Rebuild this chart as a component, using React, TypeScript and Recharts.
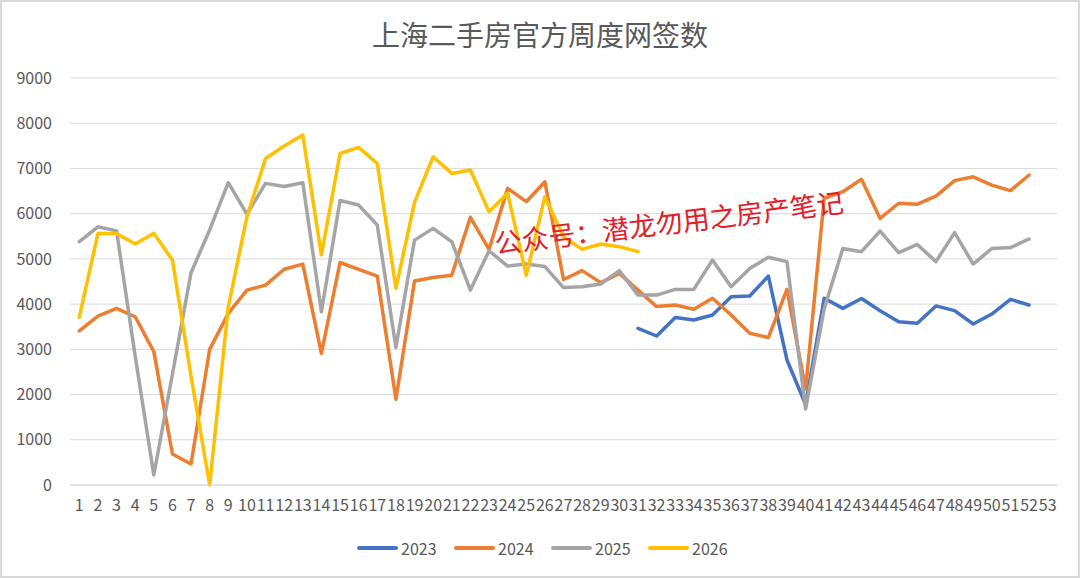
import React from "react";
import { LineChart, Line, XAxis, YAxis, CartesianGrid } from "recharts";

const weeks = ["1","2","3","4","5","6","7","8","9","10","11","12","13","14","15","16","17","18","19","20","21","22","23","24","25","26","27","28","29","30","31","32","33","34","35","36","37","38","39","40","41","42","43","44","45","46","47","48","49","50","51","52","53"];

const y2023: (number | null)[] = [null,null,null,null,null,null,null,null,null,null,null,null,null,null,null,null,null,null,null,null,null,null,null,null,null,null,null,null,null,null,
  3465,3295,3705,3650,3760,4165,4180,4620,2765,1780,4130,3905,4125,3855,3610,3575,3960,3855,3560,3780,4105,3980,null];

const y2024: (number | null)[] = [3410,3735,3905,3720,2950,685,465,3000,3795,4310,4420,4770,4885,2910,4920,4770,4620,1895,4510,4590,4640,5920,5210,6560,6265,6705,4545,4740,4475,4680,
  4310,3945,3980,3885,4130,3760,3355,3260,4325,2120,6340,6485,6760,5895,6230,6210,6390,6730,6815,6630,6510,6855,null];

const y2025: (number | null)[] = [5380,5710,5620,2850,220,2450,4695,5640,6685,5990,6670,6600,6685,3830,6290,6190,5750,3040,5415,5675,5380,4310,5180,4840,4885,4830,4365,4385,4445,4740,
  4200,4200,4325,4325,4975,4385,4790,5035,4940,1680,3900,5230,5160,5615,5140,5320,4940,5580,4885,5230,5250,5440,null];

const y2026: (number | null)[] = [3710,5560,5560,5330,5565,4975,2400,0,3940,5930,7220,7495,7740,5085,7330,7465,7110,4350,6250,7260,6890,6965,6045,6450,4640,6375,5490,5210,5330,5270,
  5160,null,null,null,null,null,null,null,null,null,null,null,null,null,null,null,null,null,null,null,null,null,null];

const yTicks = [0,1000,2000,3000,4000,5000,6000,7000,8000,9000];

const seriesNames = ["2023","2024","2025","2026"];
const seriesColors = ["#4472C4","#ED7D31","#A5A5A5","#FFC000"];
const seriesValues = [y2023, y2024, y2025, y2026];

const data = weeks.map((w, i) => {
  const row: Record<string, string | number | null> = { week: w };
  seriesNames.forEach((n, k) => { row[n] = seriesValues[k][i]; });
  return row;
});

const FONT = "'Noto Sans CJK SC', 'Noto Sans', sans-serif";

export default function App() {
  return (
    <div style={{ position: "absolute", left: 0, top: 0, width: 1080, height: 578, boxSizing: "border-box", border: "2px solid #d9d9d9", background: "#fff", overflow: "hidden" }}>
      <div style={{ position: "absolute", left: -2, top: -2 }}>
        <LineChart width={1080} height={578} data={data} margin={{ top: 78, right: 23, bottom: 53, left: 10 }}>
          <CartesianGrid vertical={false} stroke="#d9d9d9" strokeWidth={1} />
          <XAxis
            dataKey="week"
            interval={0}
            axisLine={{ stroke: "#d9d9d9" }}
            tickLine={false}
            tickSize={6}
            tickMargin={9}
            padding={{ left: 9.31, right: 9.31 }}
            tick={{ fill: "#595959", fontSize: 16, fontFamily: FONT }}
            height={40}
          />
          <YAxis
            domain={[0, 9000]}
            ticks={yTicks}
            interval={0}
            axisLine={false}
            tickLine={false}
            tickSize={6}
            tickMargin={12}
            width={60}
            tick={{ fill: "#595959", fontSize: 16, fontFamily: FONT }}
          />
          {seriesNames.map((n, k) => (
            <Line
              key={n}
              type="linear"
              dataKey={n}
              stroke={seriesColors[k]}
              strokeWidth={3.5}
              strokeLinejoin="round"
              strokeLinecap="round"
              dot={false}
              activeDot={false}
              connectNulls={false}
              isAnimationActive={false}
            />
          ))}
        </LineChart>
        <div style={{ position: "absolute", left: 0, top: 16, width: 1080, textAlign: "center", fontFamily: FONT, fontSize: 28, color: "#595959", lineHeight: "36px" }}>
          上海二手房官方周度网签数
        </div>
        <div style={{ position: "absolute", left: 669, top: 222, transform: "translate(-50%, -50%) rotate(-6.8deg)", whiteSpace: "nowrap", fontFamily: FONT, fontSize: 27, color: "#e3202a", lineHeight: "32px" }}>
          公众号：潜龙勿用之房产笔记
        </div>
        <div style={{ position: "absolute", left: 357, top: 536, display: "flex", fontFamily: FONT, fontSize: 16, color: "#595959", lineHeight: "24px" }}>
          {seriesNames.map((n, k) => (
            <div key={n} style={{ display: "flex", alignItems: "center", width: 97 }}>
              <span style={{ display: "inline-block", width: 41, height: 4, borderRadius: 2, background: seriesColors[k], marginRight: 3 }} />
              <span>{n}</span>
            </div>
          ))}
        </div>
      </div>
    </div>
  );
}
